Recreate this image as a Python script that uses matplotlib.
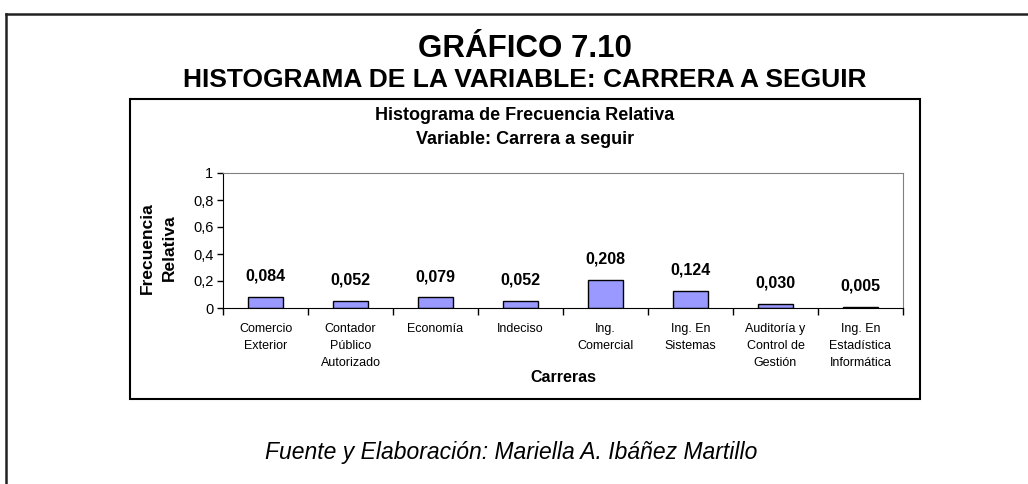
#!/usr/bin/env python3
# -*- coding: utf-8 -*-
"""
Histograma de frecuencia relativa de la variable "Carrera a seguir"
(Grafico 7.10). Se guarda como out.png
"""
import numpy as np
import matplotlib
matplotlib.use('Agg')
import matplotlib.pyplot as plt
from matplotlib.patches import Rectangle
from matplotlib.lines import Line2D

'''-------    DATOS     -------'''
carreras = ["Comercio\nExterior", "Contador\nPúblico\nAutorizado", "Economía", "Indeciso",
            "Ing.\nComercial", "Ing. En\nSistemas", "Auditoría y\nControl de\nGestión",
            "Ing. En\nEstadística\nInformática"]
frecuencia = [0.084, 0.052, 0.079, 0.052, 0.208, 0.124, 0.030, 0.005]
ticks_y = [0, 0.2, 0.4, 0.6, 0.8, 1]
etiquetas_y = ["0", "0,2", "0,4", "0,6", "0,8", "1"]

# tamano de la imagen en pixeles
W, H = 1028, 484


def px(x, y):
    # pasa pixeles (desde arriba a la izquierda) a fraccion de figura
    return x / W, 1 - y / H


plt.rcParams['font.family'] = ['Liberation Sans', 'DejaVu Sans']
fig = plt.figure(figsize=(W / 100, H / 100), dpi=100)

# marco exterior (sale por la derecha y por abajo)
fig.add_artist(Line2D([6 / W, 1.0], [1 - 14 / H, 1 - 14 / H], transform=fig.transFigure,
                      color="#222222", lw=1.8))
fig.add_artist(Line2D([6 / W, 6 / W], [1 - 14 / H, 0.0], transform=fig.transFigure,
                      color="#222222", lw=1.8))

# marco del grafico
x0, y0 = px(130, 399)
x1, y1 = px(920, 99)
fig.add_artist(Rectangle((x0, y0), x1 - x0, y1 - y0, transform=fig.transFigure,
                         fill=False, edgecolor="black", lw=1.5))

# titulos
fig.text(*px(525, 56.7), "GRÁFICO 7.10", ha="center", va="baseline",
         fontsize=22.5, fontweight="bold")
fig.text(*px(525, 86.7), "HISTOGRAMA DE LA VARIABLE: CARRERA A SEGUIR", ha="center",
         va="baseline", fontsize=19, fontweight="bold")
fig.text(*px(525, 120), "Histograma de Frecuencia Relativa", ha="center", va="baseline",
         fontsize=13, fontweight="bold")
fig.text(*px(525, 144.3), "Variable: Carrera a seguir", ha="center", va="baseline",
         fontsize=13, fontweight="bold")

# ejes
left, top = px(223, 173)
right, bottom = px(903, 308)
ax = fig.add_axes([left, bottom, right - left, top - bottom])

index = np.arange(len(frecuencia))
ax.bar(index, frecuencia, 0.41, color="#9999FF", edgecolor="black", linewidth=1)

for i, v in enumerate(frecuencia):
    ax.annotate(("%.3f" % v).replace(".", ","), (i, v), xytext=(0, 15),
                textcoords="offset points", ha="center", va="center",
                fontsize=11.5, fontweight="bold")

ax.set_xlim(-0.5, len(frecuencia) - 0.5)
ax.set_ylim(0, 1)
ax.set_yticks(ticks_y)
ax.set_yticklabels(etiquetas_y, fontsize=10.5)
ax.set_xticks(np.arange(len(frecuencia) + 1) - 0.5)
ax.set_xticklabels([])
ax.set_xticks(index, minor=True)
ax.set_xticklabels(carreras, minor=True, fontsize=9, linespacing=1.55, va="top")
ax.tick_params(axis="x", which="major", direction="out", length=5, width=1)
ax.tick_params(axis="x", which="minor", length=0, pad=11)
ax.tick_params(axis="y", direction="out", length=4, width=1, pad=3)

ax.spines["left"].set_color("black")
ax.spines["bottom"].set_color("black")
ax.spines["top"].set_color("#808080")
ax.spines["right"].set_color("#808080")

# titulos de ejes
fig.text(*px(158, 248), "Frecuencia\nRelativa", rotation=90, ha="center", va="center",
         fontsize=12.5, fontweight="bold", linespacing=1.6)
fig.text(*px(563, 378), "Carreras", ha="center", va="center", fontsize=11.5,
         fontweight="bold")

# fuente
fig.text(*px(511, 452), "Fuente y Elaboración: Mariella A. Ibáñez Martillo", ha="center",
         va="center", fontsize=16.5, style="italic")

fig.savefig("out.png", dpi=100)
